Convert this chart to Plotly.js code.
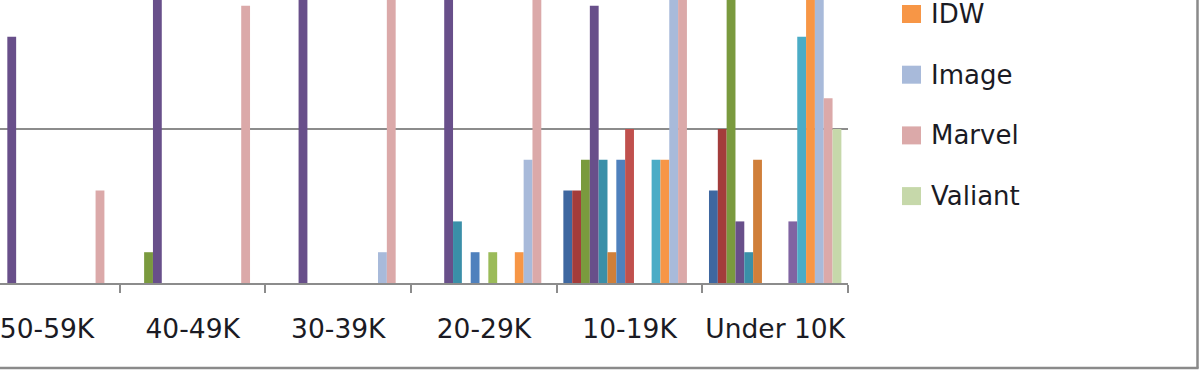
<!DOCTYPE html>
<html>
<head>
<meta charset="utf-8">
<script src="https://cdn.plot.ly/plotly-3.0.1.min.js"></script>
<style>
  html, body { margin: 0; padding: 0; background: #ffffff; }
  #chart { width: 1200px; height: 371px; }
</style>
</head>
<body>
<div id="chart"></div>
<script>
// Circulation tiers (categories)
var categories = ["50-59K", "40-49K", "30-39K", "20-29K", "10-19K", "Under 10K"];

// Publisher series (number of titles per tier)
var seriesNames = ["Archie", "Aspen", "Dark Horse", "DC", "Devil's Due", "Dynamite",
                   "Boom!", "Avatar", "Oni", "Top Cow", "Zenescope", "IDW", "Image", "Marvel", "Valiant"];
var archie     = [0, 0, 0, 0, 3, 3];
var aspen      = [0, 0, 0, 0, 3, 5];
var darkHorse  = [0, 1, 0, 0, 4, 14];
var dc         = [8, 11, 13, 15, 9, 2];
var devilsDue  = [0, 0, 0, 2, 4, 1];
var dynamite   = [0, 0, 0, 0, 1, 4];
var boom       = [0, 0, 0, 1, 4, 0];
var avatar     = [0, 0, 0, 0, 5, 0];
var oni        = [0, 0, 0, 1, 0, 0];
var topCow     = [0, 0, 0, 0, 0, 2];
var zenescope  = [0, 0, 0, 0, 4, 8];
var idw        = [0, 0, 0, 1, 4, 16];
var image      = [0, 0, 1, 4, 11, 22];
var marvel     = [3, 9, 12, 16, 18, 6];
var valiant    = [0, 0, 0, 0, 0, 5];
var seriesValues = [archie, aspen, darkHorse, dc, devilsDue, dynamite, boom, avatar,
                    oni, topCow, zenescope, idw, image, marvel, valiant];

var seriesColors = ["#3E67A0", "#A33C3B", "#7A9A3E", "#684F8A", "#3A8FA8", "#D07F3A",
                    "#4F81BD", "#C0504D", "#9BBB59", "#8064A2", "#4BACC6", "#F79646",
                    "#A8BADA", "#DBA9A9", "#C6D8AA"];

// Only these legend entries are visible in the picture
var legendShown = ["IDW", "Image", "Marvel", "Valiant"];

var traces = seriesNames.map(function (name, i) {
  return {
    type: "bar",
    name: name,
    x: categories,
    y: seriesValues[i],
    marker: { color: seriesColors[i], line: { width: 0 } },
    showlegend: false
  };
});

// Geometry helpers (pixels -> paper)
var W = 1200, H = 371;
var plotL = 0, plotR = 848, plotT = 0, plotB = 283;
function px(x) { return (x - plotL) / (plotR - plotL); }
function py(y) { return (plotB - y) / (plotB - plotT); }

var shapes = [];
var annotations = [];
var legendY0 = 14, legendStep = 60.7;
legendShown.forEach(function (name, k) {
  var idx = seriesNames.indexOf(name);
  var cy = legendY0 + k * legendStep;
  shapes.push({
    type: "rect", xref: "paper", yref: "paper",
    x0: px(902), x1: px(921), y0: py(cy - 9), y1: py(cy + 9),
    fillcolor: seriesColors[idx], line: { width: 0 }
  });
  annotations.push({
    xref: "paper", yref: "paper", x: px(929), y: py(cy),
    xanchor: "left", yanchor: "middle", showarrow: false,
    text: name,
    font: { family: "DejaVu Sans", size: 26, color: "#1b1b24" }
  });
});

// Outer chart frame (right and bottom edges visible)
shapes.push({
  type: "line", xref: "paper", yref: "paper",
  x0: px(1197.5), x1: px(1197.5), y0: py(-5), y1: py(368.5),
  line: { color: "#8a8a8a", width: 2.5 }
});
shapes.push({
  type: "line", xref: "paper", yref: "paper",
  x0: px(-5), x1: px(1198.5), y0: py(368), y1: py(368),
  line: { color: "#8a8a8a", width: 2.5 }
});

var layout = {
  width: W, height: H,
  margin: { l: plotL, r: W - plotR, t: plotT, b: H - plotB, pad: 0 },
  paper_bgcolor: "#ffffff",
  plot_bgcolor: "#ffffff",
  showlegend: false,
  barmode: "group",
  bargap: 0.0909,
  bargroupgap: 0,
  xaxis: {
    type: "category",
    range: [-0.323, 5.5],
    tickson: "boundaries",
    ticks: "outside",
    ticklen: 8,
    tickwidth: 2,
    tickcolor: "#8c8c8c",
    showline: true,
    linecolor: "#8c8c8c",
    linewidth: 2,
    showgrid: false,
    tickangle: 0,
    tickfont: { family: "DejaVu Sans", size: 26.5, color: "#1b1b24" },
    ticklabelstandoff: 21,
    fixedrange: true
  },
  yaxis: {
    range: [0, 9.19],
    dtick: 5,
    showgrid: true,
    gridcolor: "#8c8c8c",
    gridwidth: 2,
    zeroline: false,
    showline: false,
    showticklabels: false,
    ticks: "",
    fixedrange: true
  },
  shapes: shapes,
  annotations: annotations
};

Plotly.newPlot("chart", traces, layout, { staticPlot: true, displayModeBar: false });
</script>
</body>
</html>
